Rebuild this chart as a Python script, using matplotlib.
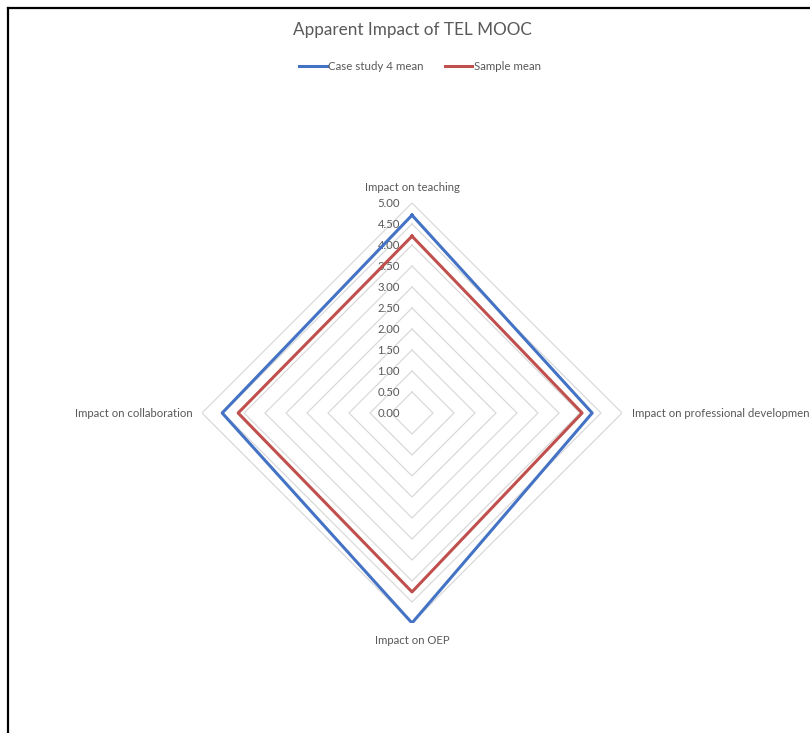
import numpy as np
import matplotlib
matplotlib.use('Agg')
import matplotlib.pyplot as plt
from matplotlib.lines import Line2D

plt.rcParams['font.family'] = ['Lato', 'DejaVu Sans']

# data
categories = ['Impact on teaching', 'Impact on professional developmen',
              'Impact on OEP', 'Impact on collaboration']
case_study = [4.71, 4.29, 5.00, 4.52]
sample_mean = [4.21, 4.05, 4.26, 4.14]
levels = [0.5, 1.0, 1.5, 2.0, 2.5, 3.0, 3.5, 4.0, 4.5, 5.0]
tick_labels = ['0.00', '0.50', '1.00', '1.50', '2.00', '2.50',
               '3.00', '3.50', '4.00', '4.50', '5.00']

BLUE = '#4472C4'
RED = '#C0504D'
GRID = '#d9d9d9'
TXT = '#595959'

fig = plt.figure(figsize=(8.1, 7.33), dpi=100)
cx, cy, rad = 412 / 810, 1 - 413 / 733, 210
ax = fig.add_axes([cx - rad / 810, cy - rad / 733, 2 * rad / 810, 2 * rad / 733],
                  projection='polar')
ax.set_theta_zero_location('N')
ax.set_theta_direction(-1)
ax.set_ylim(0, 5)
ax.grid(False)
ax.spines['polar'].set_visible(False)
ax.set_xticks([])
ax.set_yticks([])
ax.patch.set_alpha(0)

angles = np.deg2rad([0, 90, 180, 270, 0])

# diamond grid rings
for lv in levels:
    ax.plot(angles, [lv] * 5, color=GRID, lw=0.9, zorder=1)

ax.plot(angles, case_study + case_study[:1], color=BLUE, lw=2.2, zorder=3,
        label='Case study 4 mean')
ax.plot(angles, sample_mean + sample_mean[:1], color=RED, lw=2.2, zorder=3,
        label='Sample mean')

# radial labels along the top axis
for i, t in enumerate(tick_labels):
    ax.annotate(t, (0, i * 0.5), xytext=(-12, 0), textcoords='offset pixels',
                ha='right', va='center', fontsize=8.2, color=TXT, zorder=2)

# category labels
offs = [(0, 10, 'center', 'bottom'), (10, 0, 'left', 'center'),
        (0, -12, 'center', 'top'), (-9, 0, 'right', 'center')]
for c, a, (dx, dy, ha, va) in zip(categories, angles[:4], offs):
    ax.annotate(c, (a, 5), xytext=(dx, dy), textcoords='offset pixels',
                ha=ha, va=va, fontsize=8.2, color=TXT, annotation_clip=False)

fig.text(412 / 810, 1 - 30 / 733, 'Apparent Impact of TEL MOOC',
         ha='center', va='center', fontsize=12.3, color=TXT)

fig.legend(loc='center', bbox_to_anchor=(420 / 810, 1 - 67 / 733), ncol=2,
           frameon=False, fontsize=8.3, handlelength=2.4, handletextpad=0.15,
           columnspacing=1.8, labelcolor=TXT)

# black frame on left and top edges
fig.add_artist(Line2D([8 / 810, 8 / 810], [0, 1 - 8 / 733], color='black', lw=1.6,
                      transform=fig.transFigure))
fig.add_artist(Line2D([8 / 810, 1], [1 - 8 / 733, 1 - 8 / 733], color='black', lw=1.6,
                      transform=fig.transFigure))

fig.savefig('out.png', dpi=100)
